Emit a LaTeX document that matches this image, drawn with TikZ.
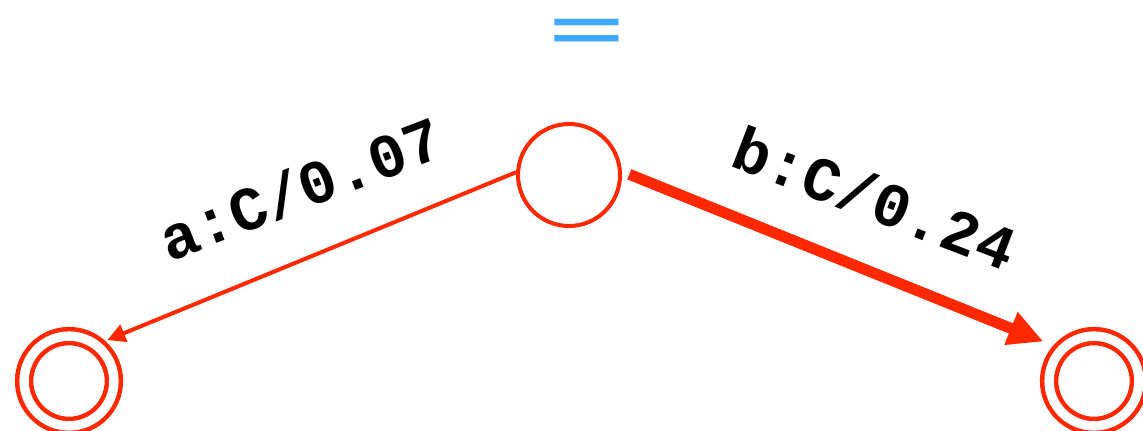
\documentclass[tikz,border=0pt]{standalone}
\usepackage{fontspec}
\newfontfamily\monofont{Liberation Mono}
\newfontfamily\eqfont{Liberation Sans}
\usetikzlibrary{arrows.meta}
\definecolor{fsmred}{RGB}{255,40,0}
\definecolor{eqblue}{RGB}{63,169,255}
\begin{document}
\begin{tikzpicture}[x=0.5pt,y=-0.5pt,
  state/.style={circle,draw=fsmred,line width=2pt,minimum size=51pt,inner sep=0pt},
  final/.style={circle,draw=fsmred,line width=2.25pt,double=white,double distance=4.7pt,minimum size=44.9pt,inner sep=0pt},
  lbl/.style={font=\monofont\bfseries\fontsize{31}{31}\selectfont,inner sep=0pt},
  thin edge/.style={draw=fsmred,line width=2pt,-{Triangle[length=9pt,width=9pt]}},
  thick edge/.style={draw=fsmred,line width=5.5pt,-{Triangle[length=17.5pt,width=16.5pt]}}]
\useasboundingbox (0,0) rectangle (1143,430);
\node[text=eqblue,font=\eqfont\bfseries\fontsize{64}{64}\selectfont,inner sep=0pt] (eq) at (587,35) {\scalebox{1}[0.47]{=}};
\node[state] (c) at (569,175) {};
\node[final] (l) at (69,381) {};
\node[final] (r) at (1094,381) {};
\draw[thin edge,shorten >=5pt] (c.177) -- (l.52);
\draw[thick edge,shorten <=4pt,shorten >=9pt] (c.4) -- (r.136);
\node[lbl,rotate=21] (la) at (300,188) {a:C/0.07};
\node[lbl,rotate=-21] (lb) at (875,198) {b:C/0.24};
\end{tikzpicture}
\end{document}
